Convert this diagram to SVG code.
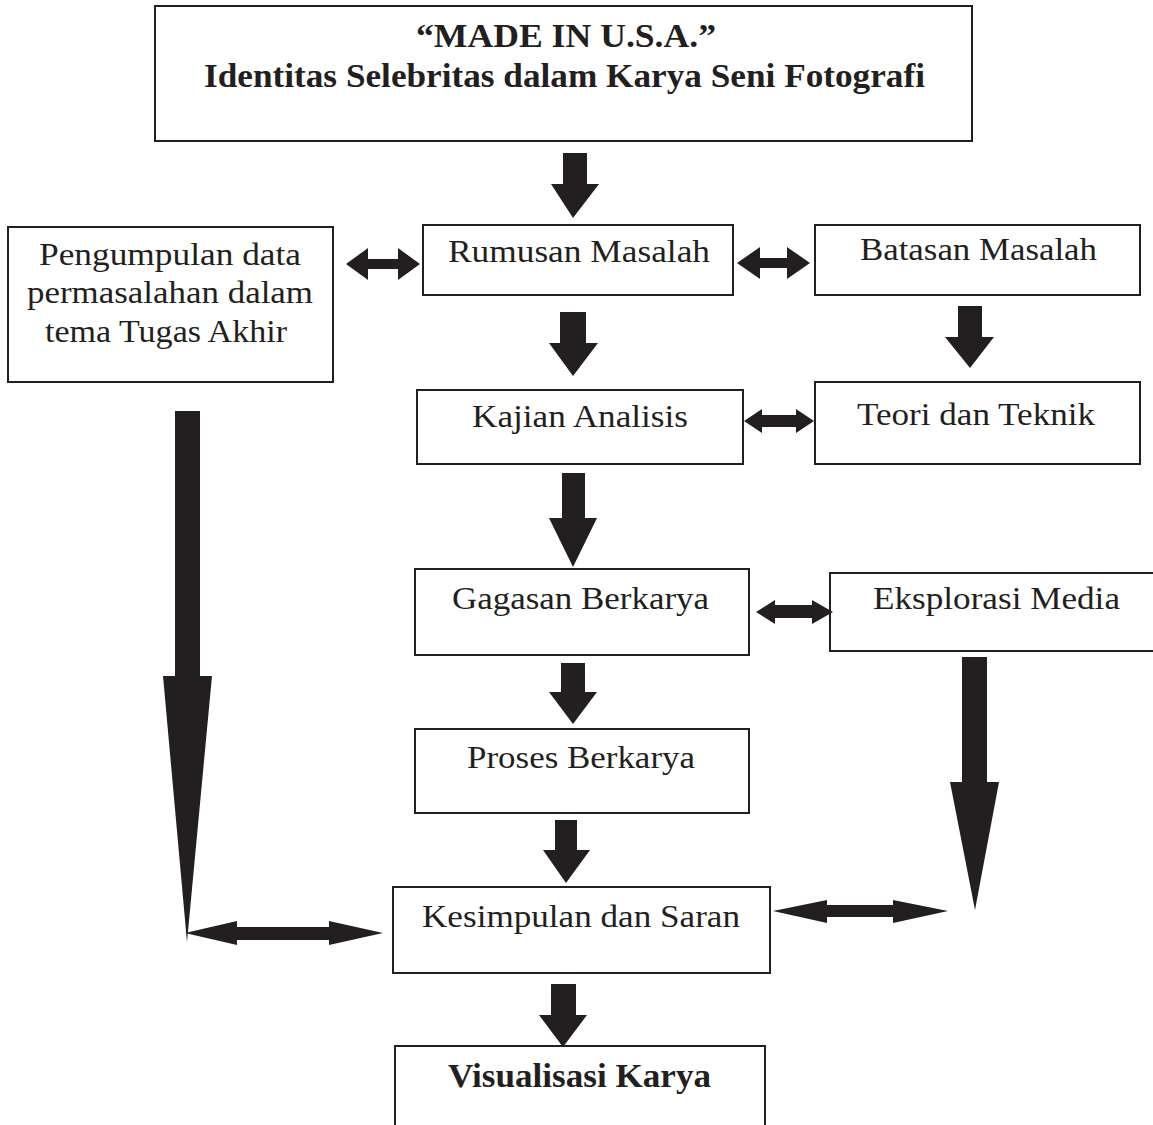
<svg xmlns="http://www.w3.org/2000/svg" width="1153" height="1125" viewBox="0 0 1153 1125">
<style>
.box{fill:#fff;stroke:#231f20;stroke-width:2}
.t{font-family:"Liberation Serif","Times New Roman",serif;font-size:31px;fill:#231f20}
.b{font-weight:bold;font-size:33px}
.a{fill:#231f20}
</style>
<rect width="1153" height="1125" fill="#fff"/>
<g id="title">
<rect class="box" x="155" y="6" width="817" height="135"/>
<text class="t b" x="416" y="47" textLength="300" lengthAdjust="spacingAndGlyphs">“MADE IN U.S.A.”</text>
<text class="t b" x="204" y="87" textLength="721" lengthAdjust="spacingAndGlyphs">Identitas Selebritas dalam Karya Seni Fotografi</text>
</g>
<g id="pengumpulan">
<rect class="box" x="8" y="227" width="325" height="155"/>
<text class="t" x="39" y="265" textLength="262" lengthAdjust="spacingAndGlyphs">Pengumpulan data</text>
<text class="t" x="27" y="303" textLength="286" lengthAdjust="spacingAndGlyphs">permasalahan dalam</text>
<text class="t" x="45" y="342" textLength="242" lengthAdjust="spacingAndGlyphs">tema Tugas Akhir</text>
</g>
<g id="rumusan">
<rect class="box" x="423" y="225" width="310" height="70"/>
<text class="t" x="448" y="262" textLength="262" lengthAdjust="spacingAndGlyphs">Rumusan Masalah</text>
</g>
<g id="batasan">
<rect class="box" x="815" y="225" width="325" height="70"/>
<text class="t" x="860" y="260" textLength="237" lengthAdjust="spacingAndGlyphs">Batasan Masalah</text>
</g>
<g id="kajian">
<rect class="box" x="417" y="390" width="326" height="74"/>
<text class="t" x="472" y="427" textLength="216" lengthAdjust="spacingAndGlyphs">Kajian Analisis</text>
</g>
<g id="teori">
<rect class="box" x="815" y="382" width="325" height="82"/>
<text class="t" x="857" y="425" textLength="238" lengthAdjust="spacingAndGlyphs">Teori dan Teknik</text>
</g>
<g id="gagasan">
<rect class="box" x="415" y="569" width="334" height="86"/>
<text class="t" x="452" y="609" textLength="257" lengthAdjust="spacingAndGlyphs">Gagasan Berkarya</text>
</g>
<g id="eksplorasi">
<rect class="box" x="830" y="573" width="325" height="78"/>
<text class="t" x="873" y="609" textLength="247" lengthAdjust="spacingAndGlyphs">Eksplorasi Media</text>
</g>
<g id="proses">
<rect class="box" x="415" y="729" width="334" height="84"/>
<text class="t" x="467" y="768" textLength="228" lengthAdjust="spacingAndGlyphs">Proses Berkarya</text>
</g>
<g id="kesimpulan">
<rect class="box" x="393" y="887" width="377" height="86"/>
<text class="t" x="422" y="927" textLength="318" lengthAdjust="spacingAndGlyphs">Kesimpulan dan Saran</text>
</g>
<g id="visualisasi">
<rect class="box" x="395" y="1046" width="370" height="90"/>
<text class="t b" x="448" y="1087" textLength="263" lengthAdjust="spacingAndGlyphs">Visualisasi Karya</text>
</g>
<g id="connectors">
<!-- down arrows -->
<polygon class="a" points="563,153 587,153 587,184 599,184 573,218 551,184 563,184"/>
<polygon class="a" points="560,312 586,312 586,343 598,343 573,376 549,343 560,343"/>
<polygon class="a" points="958,306 982,306 982,337 994,337 970,368 945,337 958,337"/>
<polygon class="a" points="562,473 585,473 585,518 597,518 573,567 549,518 562,518"/>
<polygon class="a" points="561,663 585,663 585,692 597,692 573,724 549,692 561,692"/>
<polygon class="a" points="555,820 577,820 577,850 590,850 566,883 543,850 555,850"/>
<polygon class="a" points="551,984 576,984 576,1015 587,1015 563,1047 539,1015 551,1015"/>
<!-- long arrows -->
<polygon class="a" points="175,411 200,411 200,676 212,676 187,942 163,676 175,676"/>
<polygon class="a" points="962,657 987,657 987,782 999,782 975,910 950,782 962,782"/>
<!-- double arrows -->
<polygon class="a" points="346,264 368,248 368,259 398,259 398,248 420,264 398,280 398,269 368,269 368,280"/>
<polygon class="a" points="737,263 760,247 760,258 787,258 787,247 810,263 787,279 787,268 760,268 760,279"/>
<polygon class="a" points="744,421 762,409 762,415 796,415 796,409 814,421 796,433 796,427 762,427 762,433"/>
<polygon class="a" points="756,612 775,600 775,605 812,605 812,600 833,612 812,624 812,618 775,618 775,624"/>
<polygon class="a" points="185,933 237,921 237,927 329,927 329,921 383,933 329,945 329,940 237,940 237,945"/>
<polygon class="a" points="773,911 827,900 827,905 893,905 893,900 948,911 893,923 893,917 827,917 827,923"/>
</g>
</svg>
